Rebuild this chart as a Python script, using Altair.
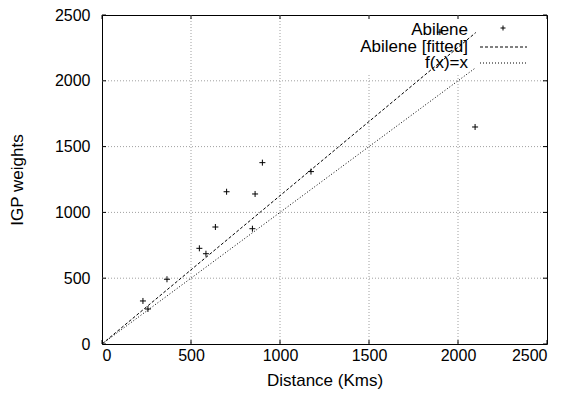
import altair as alt
import pandas as pd

# ---- data ----
dist_km = [230, 258, 365, 547, 584, 637, 700, 845, 860, 901, 1174, 1898, 2096]
igp_weight = [327, 266, 492, 727, 686, 889, 1157, 876, 1140, 1378, 1310, 2370, 1649]
fit_slope = 1.127
line_x = [0, 2100]
tick_values = [0, 500, 1000, 1500, 2000, 2500]
grid_values = [500, 1000, 1500, 2000]
legend_labels = ["Abilene", "Abilene [fitted]", "f(x)=x"]

W, H = 445, 329
FONT = "Liberation Sans"
PLUS = "M-1,0L1,0M0,-1L0,1"

xs = alt.Scale(domain=[0, 2500], nice=False, zero=False)
ys = alt.Scale(domain=[0, 2500], nice=False, zero=False)
axis_common = dict(grid=False, domain=False, ticks=False, format="d",
                   labelFont=FONT, labelFontSize=16, labelColor="black",
                   titleFont=FONT, titleFontSize=17, titleColor="black",
                   titleFontWeight="normal")
xaxis = alt.Axis(values=tick_values, title="Distance (Kms)", labelPadding=3,
                 titlePadding=9, **axis_common)
yaxis = alt.Axis(values=tick_values, title="IGP weights", labelPadding=12,
                 titlePadding=28, **axis_common)

def X(f="x"):
    return alt.X(f"{f}:Q", scale=xs, axis=xaxis)

def Y(f="y"):
    return alt.Y(f"{f}:Q", scale=ys, axis=yaxis)

pts = pd.DataFrame({"x": dist_km, "y": igp_weight})
ticks_df = pd.DataFrame({"x": tick_values, "y": tick_values})
grid_df = pd.DataFrame({"x": grid_values, "y": grid_values})
fit_df = pd.DataFrame({"x": line_x, "y": [v * fit_slope for v in line_x]})
id_df = pd.DataFrame({"x": line_x, "y": line_x})

grid_style = dict(color="#a0a0a0", strokeWidth=1, strokeDash=[1, 2])
grid_v = alt.Chart(grid_df).mark_rule(**grid_style).encode(
    x=X(), y=alt.value(0), y2=alt.value(H))
grid_h = alt.Chart(grid_df).mark_rule(**grid_style).encode(
    y=Y(), x=alt.value(0), x2=alt.value(W))

# key box background hides the grid behind the legend
key_bg = alt.Chart(pts).mark_rect(color="white").encode(
    x=alt.value(248), x2=alt.value(W - 1), y=alt.value(1), y2=alt.value(59))

fit_line = alt.Chart(fit_df).mark_line(color="black", strokeWidth=1, strokeDash=[3, 2]).encode(
    x=X(), y=Y())
id_line = alt.Chart(id_df).mark_line(color="black", strokeWidth=1, strokeDash=[1, 2]).encode(
    x=X(), y=Y())

points = alt.Chart(pts).mark_point(shape=PLUS, size=36, filled=False, color="black",
                                   strokeWidth=1, opacity=1).encode(x=X(), y=Y())

tk = dict(color="black", strokeWidth=1)
t_bottom = alt.Chart(ticks_df).mark_rule(**tk).encode(x=X(), y=alt.value(H), y2=alt.value(H - 4))
t_top = alt.Chart(ticks_df).mark_rule(**tk).encode(x=X(), y=alt.value(0), y2=alt.value(4))
t_left = alt.Chart(ticks_df).mark_rule(**tk).encode(y=Y(), x=alt.value(0), x2=alt.value(4))
t_right = alt.Chart(ticks_df).mark_rule(**tk).encode(y=Y(), x=alt.value(W), x2=alt.value(W - 4))

# legend (gnuplot style: label on the left, sample on the right)
leg_y = [15, 32, 48]
leg_layers = []
for lab, yy in zip(legend_labels, leg_y):
    leg_layers.append(
        alt.Chart(pd.DataFrame({"label": [lab]})).mark_text(
            align="right", baseline="middle", font=FONT, fontSize=17, color="black"
        ).encode(text="label:N", x=alt.value(366), y=alt.value(yy))
    )
leg_plus = alt.Chart(pd.DataFrame({"label": [legend_labels[0]]})).mark_point(
    shape=PLUS, size=25, filled=False, color="black", strokeWidth=1, opacity=1
).encode(x=alt.value(401), y=alt.value(13))
leg_fit = alt.Chart(pd.DataFrame({"label": [legend_labels[1]]})).mark_rule(
    color="black", strokeWidth=1, strokeDash=[3, 2]
).encode(x=alt.value(378), x2=alt.value(425), y=alt.value(leg_y[1]))
leg_id = alt.Chart(pd.DataFrame({"label": [legend_labels[2]]})).mark_rule(
    color="black", strokeWidth=1, strokeDash=[1, 2]
).encode(x=alt.value(378), x2=alt.value(425), y=alt.value(leg_y[2]))

chart = alt.layer(
    grid_v, grid_h, key_bg, id_line, fit_line, points,
    t_bottom, t_top, t_left, t_right,
    *leg_layers, leg_plus, leg_fit, leg_id,
).properties(
    width=W, height=H,
    background="white",
    padding={"left": 94, "top": 7, "right": 14, "bottom": 46},
    autosize=alt.AutoSizeParams(type="none"),
).configure_view(
    stroke="black", strokeWidth=1, fill="white"
)

chart.save("out.html", embed_options={"renderer": "svg", "actions": False})
